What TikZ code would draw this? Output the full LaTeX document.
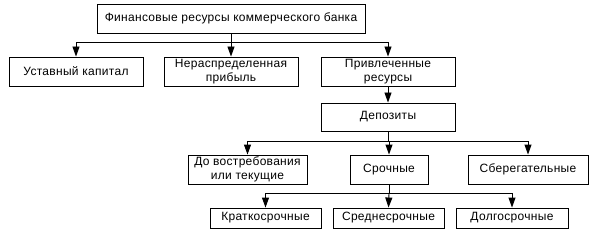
\documentclass[tikz,border=0pt]{standalone}
\usepackage{fontspec}
\setmainfont[LetterSpace=2.5]{Liberation Sans}
\usetikzlibrary{arrows.meta}
\tikzset{
  box/.style={draw=black, line width=0.9pt, fill=white, inner sep=1pt, align=center, font=\fontsize{12}{14.5}\selectfont},
  conn/.style={line width=0.9pt},
  arr/.style={line width=0.9pt, -{Triangle[width=7pt,length=10pt]}}
}
\begin{document}
\begin{tikzpicture}[x=1pt,y=-1pt]
\useasboundingbox[fill=white] (0,0) rectangle (596,235);
\node[box, minimum width=268, minimum height=29] (top) at (231,18.5) {Финансовые ресурсы коммерческого банка};
\node[box, minimum width=134, minimum height=29] (ust) at (76,71.5) {Уставный капитал};
\node[box, minimum width=134, minimum height=29] (ner) at (231,71.5) {Нераспределенная\\прибыль};
\node[box, minimum width=134, minimum height=29] (pri) at (388,71.5) {Привлеченные\\ресурсы};
\node[box, minimum width=134, minimum height=28] (dep) at (388,117) {Депозиты};
\node[box, minimum width=119, minimum height=29] (dov) at (247.5,169.5) {До востребования\\или текущие};
\node[box, minimum width=78, minimum height=29] (sro) at (389,169.5) {Срочные};
\node[box, minimum width=120, minimum height=29] (sbe) at (528,169.5) {Сберегательные};
\node[box, minimum width=111, minimum height=20] (kra) at (265.5,218) {Краткосрочные};
\node[box, minimum width=111, minimum height=20] (sre) at (388.5,218) {Среднесрочные};
\node[box, minimum width=112, minimum height=20] (dol) at (512,218) {Долгосрочные};
\coordinate (j1) at (231,42);
\coordinate (j2) at (388,141);
\coordinate (j3) at (389,193);
\draw[conn] (top.south) -- (j1);
\draw[arr] (j1) -| (ust.north);
\draw[arr] (j1) -- (ner.north);
\draw[arr] (j1) -| (pri.north);
\draw[arr] (pri.south) -- (dep.north);
\draw[conn] (dep.south) -- (j2);
\draw[arr] (j2) -| (dov.north);
\draw[arr] (j2) -| (sro.north);
\draw[arr] (j2) -| (sbe.north);
\draw[conn] (sro.south) -- (j3);
\draw[arr] (j3) -| (kra.north);
\draw[arr] (j3) -- (sre.north);
\draw[arr] (j3) -| (dol.north);
\end{tikzpicture}
\end{document}
